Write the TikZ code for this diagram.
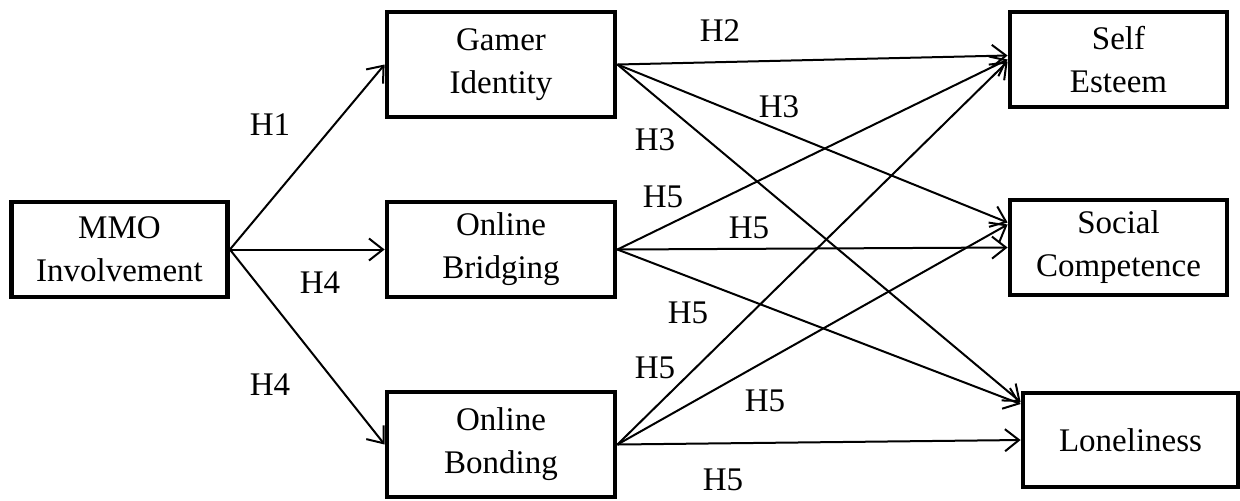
\documentclass[tikz,border=0pt]{standalone}
\usepackage{fontspec}
\setmainfont{Liberation Serif}
\usetikzlibrary{arrows.meta,calc}
\begin{document}
\begin{tikzpicture}[x=0.5pt,y=-0.5pt,
  box/.style={draw,line width=2.4pt,align=center,inner sep=0pt,font=\fontsize{16.5}{21.5}\selectfont},
  conn/.style={line width=1pt,-{Straight Barb[length=7pt,width=11pt,line width=1pt]}},
  lab/.style={font=\fontsize{16.5}{20}\selectfont,inner sep=0pt}]
\useasboundingbox (0,0) rectangle (1240,500);
\node[box,minimum width=108pt,minimum height=47.5pt] (mmo) at (119.5,249.5) {MMO\\Involvement};
\node[box,minimum width=114pt,minimum height=52.5pt] (gam) at (501,64.5) {Gamer\\Identity};
\node[box,minimum width=114pt,minimum height=47.5pt] (bri) at (501,249.5) {Online\\Bridging};
\node[box,minimum width=114pt,minimum height=52.5pt] (bon) at (501,444.5) {Online\\Bonding};
\node[box,minimum width=108.5pt,minimum height=47.5pt] (se) at (1118.5,59.5) {Self\\Esteem};
\node[box,minimum width=108.5pt,minimum height=47.5pt] (sc) at (1118.5,247.5) {Social\\Competence};
\node[box,minimum width=107.5pt,minimum height=47pt] (lo) at (1130.5,440) {Loneliness};
\draw[conn] (mmo.east) -- (gam.west);
\draw[conn] (mmo.east) -- (bri.west);
\draw[conn] (mmo.east) -- (bon.west);
\draw[conn] (gam.east) -- ($(se.west)+(0,-4)$);
\draw[conn] (gam.east) -- ($(sc.west)+(0,-25)$);
\draw[conn] (gam.east) -- ($(lo.west)+(0,-38)$);
\draw[conn] (bri.east) -- (se.west);
\draw[conn] (bri.east) -- (sc.west);
\draw[conn] (bri.east) -- ($(lo.west)+(0,-36)$);
\draw[conn] (bon.east) -- ($(se.west)+(0,2)$);
\draw[conn] (bon.east) -- ($(sc.west)+(0,-23)$);
\draw[conn] (bon.east) -- (lo.west);
\node[lab] (l1) at (270,125) {H1};
\node[lab] (l2) at (320,283) {H4};
\node[lab] (l3) at (270,385) {H4};
\node[lab] (l4) at (720,31) {H2};
\node[lab] (l5) at (779,107) {H3};
\node[lab] (l6) at (655,140) {H3};
\node[lab] (l7) at (663,197) {H5};
\node[lab] (l8) at (749,228) {H5};
\node[lab] (l9) at (688,313) {H5};
\node[lab] (l10) at (655,368) {H5};
\node[lab] (l11) at (765,401) {H5};
\node[lab] (l12) at (723,480) {H5};
\end{tikzpicture}
\end{document}
